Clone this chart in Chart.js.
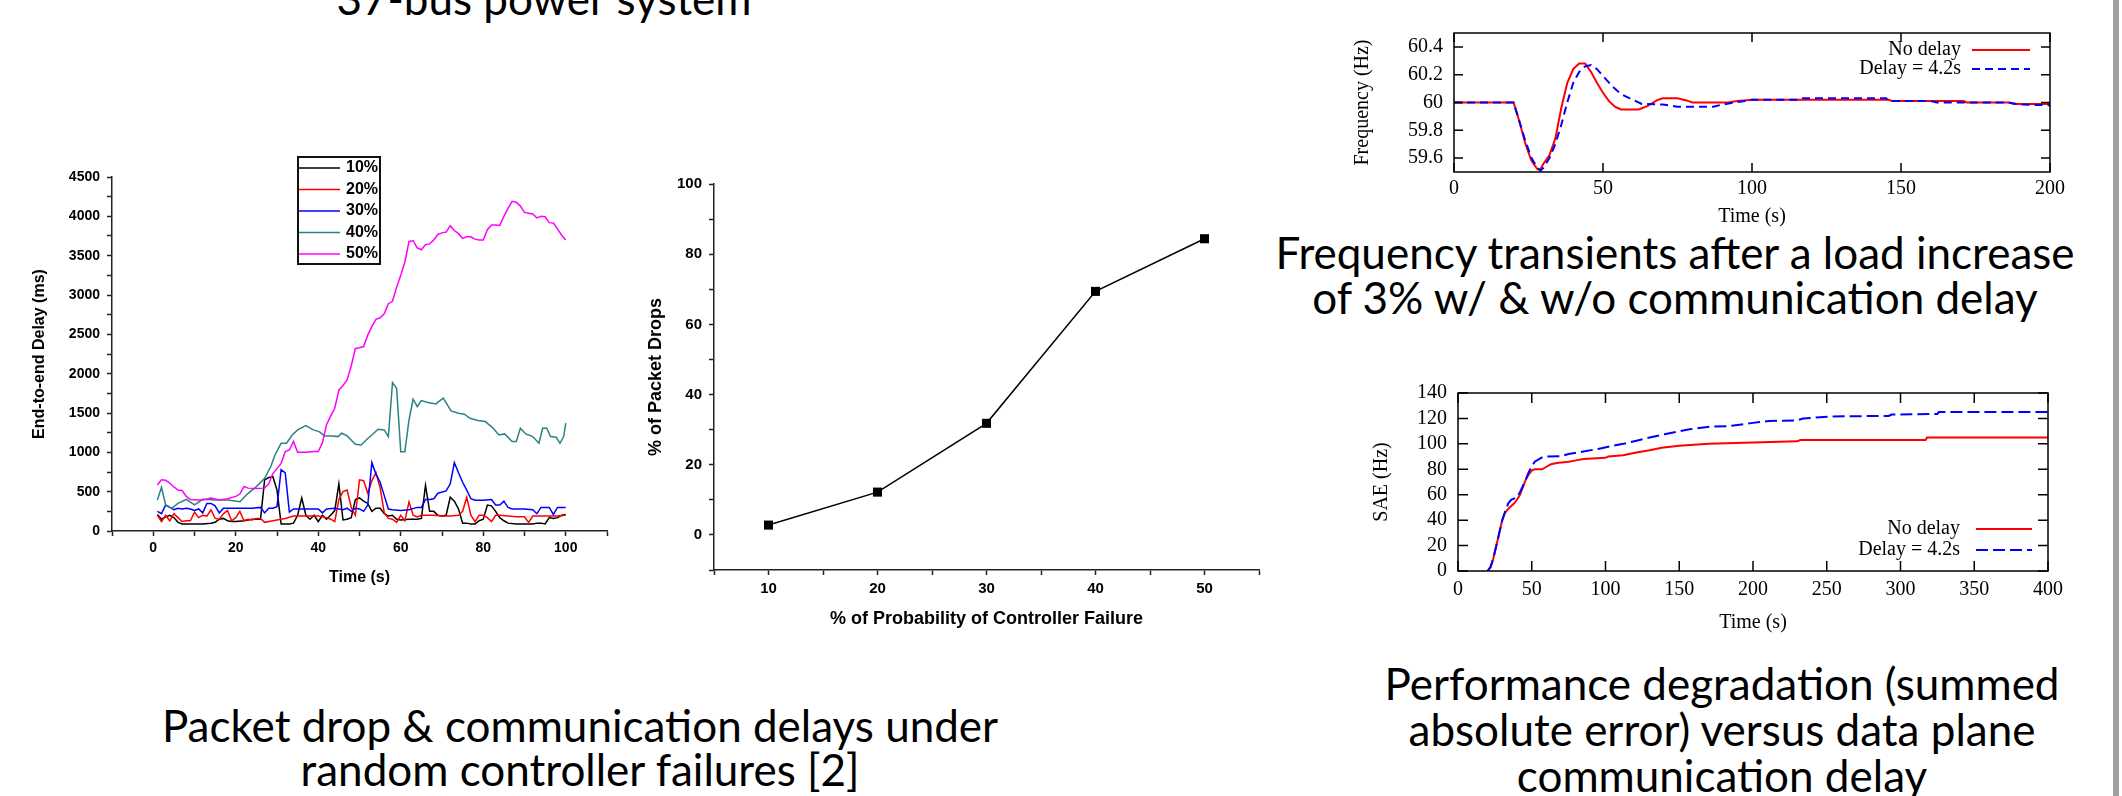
<!DOCTYPE html>
<html>
<head>
<meta charset="utf-8">
<script src="https://cdn.jsdelivr.net/npm/chart.js@4"></script>
<style>
  html, body { margin: 0; padding: 0; background: #fff; }
  body { width: 2122px; height: 796px; position: relative; overflow: hidden; }
  canvas { position: absolute; }
  .cap { position: absolute; font-family: Lato, 'Open Sans', sans-serif; font-size: 44px; color: #000;
         text-align: center; white-space: nowrap; }
  .edge { position: absolute; left: 2113px; top: 0; width: 6px; height: 796px; background: #a0a0a0; }
</style>
</head>
<body>

<div class="cap" style="left:244px; top:-25px; width:600px; line-height:46px;">37-bus power system</div>
<div class="cap" style="left:1225px; top:230px; width:900px; line-height:45px;">Frequency transients after a load increase<br>of 3% w/ &amp; w/o communication delay</div>
<div class="cap" style="left:1272px; top:660px; width:900px; line-height:46px;">Performance degradation (summed<br>absolute error) versus data plane<br>communication delay</div>
<div class="cap" style="left:130px; top:703px; width:900px; line-height:44px;">Packet drop &amp; communication delays under<br>random controller failures [2]</div>
<div class="edge"></div>

<canvas id="delayChart" width="620" height="439" style="left:0px; top:150px;"></canvas>
<canvas id="dropChart" width="660" height="474" style="left:620px; top:160px;"></canvas>
<canvas id="freqChart" width="730" height="222" style="left:1340px; top:10px;"></canvas>
<canvas id="saeChart" width="730" height="268" style="left:1340px; top:370px;"></canvas>

<script>
// ---------- end-to-end delay (left chart) ----------
const delayLabels = ['10%', '20%', '30%', '40%', '50%'];
const delayColors = ['#000000', '#ff0000', '#0000ff', '#2b8282', '#ff00ff'];

const t10 = [1,2,3,4,5,6,7,8, 10,12,14,15,16,17,18,19,20,
  22,23,24,25,26,27,28,29,30,31,32,33,34,35,36,37,38,39,40,41,42,43,44,45,46,47,48,49,50,51,52,53,54,55,56,57,58,59,60,
  62,64, 65,66,67,68,69,70,71,72,73,74,75,76,77,78,79,80,81,82,83,84,85,86, 88,90,92, 93,94,95,96,97,98,99,100];
const d10 = [210,150,180,200,170,110,90,90, 90,90,100,110,150,160,130,120,120,
  130,140,150,150,150,650,680,690,520,90,90,90,100,200,420,200,150,200,120,200,150,200,260,600,140,150,170,400,420,380,350,250,290,290,220,190,200,150,140,
  150,150, 160,580,250,250,200,190,200,430,380,280,100,100,90,90,130,150,330,320,250,170,130,100, 90,90,90, 100,100,90,170,160,170,200,210];

const t20 = [1,2,3,4,5,6,7,8,9,10,11,12,13,14,15,16,17,18,19,20,21,22,23,24,25,26,27,28,
  30,32,34,36,38,40,42,
  43,44,45,46,47,48,49,50,51,52,53,54,55,56,57,58,59,60,61,62,63,64,65,66,
  68,70,72,74, 75,76,77,78,79,80,81,82,83,84, 86,88,90, 91,92, 94,96,98,100];
const d20 = [200,120,200,130,220,170,120,130,130,240,170,200,190,270,160,150,220,260,130,170,250,130,150,140,160,160,110,120,
  140,160,190,190,190,190,170,
  150,120,400,500,520,300,200,650,640,480,640,740,550,230,160,150,110,200,130,370,200,180,200,200,
  200,190,190,200, 250,430,200,120,200,200,170,120,200,200, 190,180,180, 110,190, 190,190,190,200];

const t30 = [1,2,3,4,5,6,7,8,9,10,11,12,13,14,15,16,17,18,20,22,24,26,27,28,29,30,31,32,33,34,36,38,40,41,42,44,
  46,47,48,49,50,51,52,53,54,55,56,57,58,60,62,64,65,66,67,68,69,71,72,73,74,75,76,77,78,80,82,83,84,85,86,87,
  90,92,93,94,96,97,98,100];
const d30 = [250,220,330,300,270,290,280,290,280,260,280,230,350,350,320,230,290,290,290,290,290,300,230,290,290,310,780,740,240,280,280,280,280,230,280,290,
  270,290,250,290,280,250,330,870,720,620,450,280,270,260,270,300,300,400,400,410,480,510,600,870,740,620,520,410,390,390,400,330,330,380,300,280,
  280,270,220,300,300,210,300,300];

const t40 = [1,2,3,4.5,6,8,10,12,15,18, 21,23,25,27,28.5,29.5,31,32.3,33.7,35, 37,38.8,40.2,41.6,43.4,44.8,45.7,47,49,50.4,
  51.8,53,54.5,56,57,58,59,60,61,62, 63,64,65,66.6,68.5,70.3,72.2,74,75.4,76.8, 78.7,80.5,82.4,83.8,85.2,87,88,89,90.3,92,
  93.5,94.4,95.4,96.3,97.7,98.6,99.5,100];
const d40 = [394,556,331,288,352,403,331,403,394,394, 373,479,564,670,819,967,1115,1115,1221,1285, 1340,1285,1264,1209,1209,1200,1243,1209,1103,1094,
  1166,1221,1293,1285,1200,1887,1815,1009,1009,1412, 1675,1582,1658,1633,1616,1688,1527,1497,1484,1433, 1404,1391,1306,1221,1234,1137,1137,1306,1234,1200,
  1115,1306,1306,1200,1191,1115,1200,1370];

const t50 = [1,2,3,4,5,6,7,8,9, 11,12,14,16,18,20,21,22,23,25,27,28,29, 31,32,33,34,35, 37,39,
  40,41,42,43,44,45,46,47,48,49,50,51,52,53,54,55,56,57,58,59,60,61,62,63,64,65,66,67,68,69,70,
  71,72,73,74,75,76,77,78,79,80,81,82,83,84,85,86,87,88,89,90,91,92,93,94,95,96,97,98,99,100];
const d50 = [585,650,645,610,560,520,515,440,400, 395,395,420,395,410,440,470,565,545,540,545,600,730, 860,1010,1030,1140,1000, 1000,1010,
  1010,1120,1350,1460,1560,1790,1850,1920,2100,2320,2330,2345,2490,2600,2690,2710,2760,2890,2920,3100,3250,3420,3680,3690,3600,3575,3640,3650,3700,3770,3790,
  3800,3880,3820,3780,3720,3740,3740,3710,3700,3700,3830,3890,3890,3885,4000,4100,4190,4180,4130,4050,4040,4030,3980,4000,3995,3920,3915,3840,3760,3700];

const delayTimes = [t10, t20, t30, t40, t50];
const delayValues = [d10, d20, d30, d40, d50];
const delayXTicks = [-10,0,10,20,30,40,50,60,70,80,90,100,110];
const delayYTicks = [0,250,500,750,1000,1250,1500,1750,2000,2250,2500,2750,3000,3250,3500,3750,4000,4250,4500];

// ---------- packet drops (middle chart) ----------
const failProb = [10, 20, 30, 40, 50];
const packetDrops = [2.8, 12.2, 31.8, 69.4, 84.4];
const dropXTicks = [5,10,15,20,25,30,35,40,45,50,55];
const dropYTicks = [-10,0,10,20,30,40,50,60,70,80,90,100];

// ---------- frequency transients (top right) ----------
const seriesNames = ['No delay', 'Delay = 4.2s'];
const freqTimeNo = [0,20,22,24,26,28,29,30,32,34,36,38,40,42,44,46,48,50,52,54,56,58,62,65,68,70,75,78,80,92,95,100,146,147,171,172,186,188,200];
const freqNo = [60,60,59.86,59.7,59.58,59.52,59.52,59.56,59.62,59.74,59.96,60.14,60.24,60.28,60.28,60.22,60.14,60.07,60.01,59.97,
  59.95,59.95,59.95,59.975,60.015,60.03,60.03,60.015,60,60,60.01,60.02,60.02,60.01,60.01,60,60,59.99,59.99];
const freqTimeDelay = [0,20,22,24,26,28,29,30,32,34,36,38,40,42,44,46,48,50,53,56,60,63,70,75,87,90,94,99,100,116,117,145,146,160,162,186,190,200];
const freqDelay = [60,60,59.86,59.72,59.6,59.53,59.51,59.53,59.6,59.7,59.84,60,60.14,60.22,60.26,60.27,60.24,60.19,60.12,60.06,
  60.02,59.99,59.985,59.97,59.97,59.985,60,60.015,60.02,60.02,60.03,60.03,60.01,60.01,60,60,59.985,59.98];
const freqXTicks = [0,50,100,150,200];
const freqYTicks = [59.6,59.8,60,60.2,60.4];

// ---------- summed absolute error (bottom right) ----------
const saeTimeNo = [20,22,24,26,28,30,32,35,38,40,42,44,46,48,50,52,57,60,63,67,75,80,85,100,102,112,120,130,138,150,170,200,230,232,317,318,400];
const saeNo = [0,3,10,20,30,40,46,50,53,56,60,66,72,76,79,80,80,82,84,85,86,87,88,89,90,91,93,95,97,98.5,100,101,102,103,103,105,105];
const saeTimeDelay = [20,22,24,26,28,30,32,34,36,40,42,44,46,48,50,52,55,58,70,75,85,95,103,112,121,130,140,148,157,171,184,191,200,211,230,234,252,292,294,325,326,400];
const saeDelay = [0,3,10,20,30,40,47,53,56,58,62,67,72,78,82,86,88,90,90.3,92,94,96,98,100,102.5,105,107.5,109.5,111.5,113.5,
  114,115,116.5,118,118.5,120,121.5,122,123,123.5,125,125];
const saeXTicks = [0,50,100,150,200,250,300,350,400];
const saeYTicks = [0,20,40,60,80,100,120,140];

// ---------- helpers ----------
Chart.defaults.color = '#000';
const toPoints = (xs, ys) => xs.map((x, i) => ({ x: x, y: ys[i] }));
const setTicks = (list) => (axis) => { axis.ticks = list.map(v => ({ value: v })); };
const sansBold = (size) => ({ family: "'Liberation Sans', Arial, sans-serif", weight: 'bold', size: size });
const serif = (size) => ({ family: "'Liberation Serif', 'Times New Roman', serif", size: size });

// Origin-style boxed legend
const originKey = {
  id: 'originKey',
  afterDatasetsDraw(chart, args, o) {
    const { ctx, chartArea: a } = chart;
    const x0 = a.left + o.dx, y0 = a.top + o.dy;
    ctx.save();
    ctx.fillStyle = '#fff';
    ctx.fillRect(x0, y0, o.w, o.h);
    ctx.strokeStyle = '#111';
    ctx.lineWidth = 2;
    ctx.strokeRect(x0, y0, o.w, o.h);
    ctx.font = o.font;
    ctx.textBaseline = 'middle';
    chart.data.datasets.forEach((ds, i) => {
      const y = y0 + o.first + i * o.step;
      ctx.strokeStyle = ds.borderColor;
      ctx.lineWidth = 1.5;
      ctx.beginPath();
      ctx.moveTo(x0 + 1, y);
      ctx.lineTo(x0 + o.sample, y);
      ctx.stroke();
      ctx.fillStyle = '#000';
      ctx.fillText(ds.label, x0 + o.sample + o.gap, y);
    });
    ctx.restore();
  }
};

// gnuplot-style frame: full box, inward ticks on every side, key at the right
const gnuFrame = {
  id: 'gnuFrame',
  afterDatasetsDraw(chart, args, o) {
    const { ctx, chartArea: a, scales } = chart;
    const L = o.tick;
    ctx.save();
    ctx.strokeStyle = '#000';
    ctx.lineWidth = 1.5;
    ctx.beginPath();
    scales.x.ticks.forEach(t => {
      const px = scales.x.getPixelForValue(t.value);
      ctx.moveTo(px, a.bottom); ctx.lineTo(px, a.bottom - L);
      ctx.moveTo(px, a.top); ctx.lineTo(px, a.top + L);
    });
    scales.y.ticks.forEach(t => {
      const py = scales.y.getPixelForValue(t.value);
      ctx.moveTo(a.left, py); ctx.lineTo(a.left + L, py);
      ctx.moveTo(a.right, py); ctx.lineTo(a.right - L, py);
    });
    ctx.stroke();
    ctx.strokeRect(a.left, a.top, a.right - a.left, a.bottom - a.top);

    ctx.font = o.font;
    ctx.textAlign = 'right';
    ctx.textBaseline = 'middle';
    chart.data.datasets.forEach((ds, i) => {
      const y = a.top + o.keyTop + i * o.keyStep;
      ctx.fillStyle = '#000';
      ctx.fillText(ds.label, a.right - o.textRight, y);
      ctx.strokeStyle = ds.borderColor;
      ctx.lineWidth = ds.borderWidth;
      ctx.setLineDash(ds.borderDash || []);
      ctx.beginPath();
      ctx.moveTo(a.right - o.lineFrom, y);
      ctx.lineTo(a.right - o.lineTo, y);
      ctx.stroke();
      ctx.setLineDash([]);
    });
    ctx.restore();
  }
};

const baseOpts = { responsive: false, animation: false, devicePixelRatio: 1, events: [] };

// ---------- chart 1: end-to-end delay ----------
new Chart(document.getElementById('delayChart'), {
  type: 'line',
  data: {
    datasets: delayLabels.map((name, i) => ({
      label: name,
      data: toPoints(delayTimes[i], delayValues[i]),
      borderColor: delayColors[i],
      borderWidth: 1.5,
      pointRadius: 0,
      tension: 0,
      order: delayLabels.length - i
    }))
  },
  options: Object.assign({}, baseOpts, {
    layout: { padding: { top: 27, right: 13, left: 0, bottom: 0 } },
    plugins: {
      legend: { display: false },
      tooltip: { enabled: false },
      originKey: { dx: 186, dy: -20, w: 82, h: 107, first: 11, step: 21.5, sample: 42, gap: 6,
                   font: "bold 16px 'Liberation Sans', Arial, sans-serif" }
    },
    scales: {
      x: {
        type: 'linear', min: -10, max: 110,
        afterBuildTicks: setTicks(delayXTicks),
        afterFit: (axis) => { axis.height = 58; },
        grid: { display: true, drawOnChartArea: false, drawTicks: true, tickLength: 5, tickWidth: 1.5, color: '#222' },
        border: { display: true, color: '#222', width: 1.5 },
        ticks: { autoSkip: false, maxRotation: 0, padding: 4, font: sansBold(14),
                 callback: (v) => (v % 20 === 0 && v >= 0 && v <= 100) ? v : '' },
        title: { display: true, text: 'Time (s)', font: sansBold(16), padding: { top: 0, bottom: 2 } }
      },
      y: {
        type: 'linear', min: 0, max: 4500,
        afterBuildTicks: setTicks(delayYTicks),
        afterFit: (axis) => { axis.width = 112; },
        grid: { display: true, drawOnChartArea: false, drawTicks: true, tickLength: 5, tickWidth: 1.5, color: '#222' },
        border: { display: true, color: '#222', width: 1.5 },
        ticks: { autoSkip: false, padding: 7, font: sansBold(14),
                 callback: (v) => v % 500 === 0 ? v : '' },
        title: { display: true, text: 'End-to-end Delay (ms)', font: sansBold(16), padding: { top: 30, bottom: 0 } }
      }
    }
  }),
  plugins: [originKey]
});

// ---------- chart 2: packet drops ----------
new Chart(document.getElementById('dropChart'), {
  type: 'line',
  data: {
    datasets: [{
      label: 'Packet drops',
      data: toPoints(failProb, packetDrops),
      borderColor: '#000',
      borderWidth: 1.5,
      backgroundColor: '#000',
      pointStyle: 'rect',
      pointRadius: 6.4,
      pointBorderWidth: 0,
      tension: 0
    }]
  },
  options: Object.assign({}, baseOpts, {
    layout: { padding: { top: 24, right: 21, left: 0, bottom: 0 } },
    plugins: { legend: { display: false }, tooltip: { enabled: false } },
    scales: {
      x: {
        type: 'linear', min: 5, max: 55,
        afterBuildTicks: setTicks(dropXTicks),
        afterFit: (axis) => { axis.height = 64; },
        grid: { display: true, drawOnChartArea: false, drawTicks: true, tickLength: 5, tickWidth: 1.5, color: '#222' },
        border: { display: true, color: '#222', width: 1.5 },
        ticks: { autoSkip: false, maxRotation: 0, padding: 5, font: sansBold(15),
                 callback: (v) => (v % 10 === 0) ? v : '' },
        title: { display: true, text: '% of Probability of Controller Failure', font: sansBold(18), padding: { top: 0, bottom: 4 } }
      },
      y: {
        type: 'linear', min: -10, max: 100,
        afterBuildTicks: setTicks(dropYTicks),
        afterFit: (axis) => { axis.width = 94; },
        grid: { display: true, drawOnChartArea: false, drawTicks: true, tickLength: 5, tickWidth: 1.5, color: '#222' },
        border: { display: true, color: '#222', width: 1.5 },
        ticks: { autoSkip: false, padding: 7, font: sansBold(15),
                 callback: (v) => (v >= 0 && v % 20 === 0) ? v : '' },
        title: { display: true, text: '% of Packet Drops', font: sansBold(18), padding: { top: 25, bottom: 0 } }
      }
    }
  })
});

// ---------- chart 3: frequency transients ----------
new Chart(document.getElementById('freqChart'), {
  type: 'line',
  data: {
    datasets: [
      { label: seriesNames[0], data: toPoints(freqTimeNo, freqNo), borderColor: '#ff0000', borderWidth: 2,
        pointRadius: 0, tension: 0, order: 1 },
      { label: seriesNames[1], data: toPoints(freqTimeDelay, freqDelay), borderColor: '#0000ff', borderWidth: 2,
        borderDash: [8, 5], pointRadius: 0, tension: 0, order: 0 }
    ]
  },
  options: Object.assign({}, baseOpts, {
    layout: { padding: { top: 16, right: 18, left: 0, bottom: 0 } },
    plugins: {
      legend: { display: false },
      tooltip: { enabled: false },
      gnuFrame: { tick: 9, font: "20px 'Liberation Serif', 'Times New Roman', serif",
                  keyTop: 17, keyStep: 19, textRight: 89, lineFrom: 78, lineTo: 20 }
    },
    scales: {
      x: {
        type: 'linear', min: 0, max: 200,
        afterBuildTicks: setTicks(freqXTicks),
        afterFit: (axis) => { axis.height = 60; },
        grid: { display: false, drawTicks: false },
        border: { display: false },
        ticks: { autoSkip: false, maxRotation: 0, padding: 5, font: serif(20) },
        title: { display: true, text: 'Time (s)', font: serif(20), padding: { top: 0, bottom: 3 } }
      },
      y: {
        type: 'linear', min: 59.5, max: 60.5,
        afterBuildTicks: setTicks(freqYTicks),
        afterFit: (axis) => { axis.width = 114; },
        grid: { display: false, drawTicks: false },
        border: { display: false },
        ticks: { autoSkip: false, padding: 11, font: serif(20), callback: (v) => String(+v.toFixed(1)) },
        title: { display: true, text: 'Frequency (Hz)', font: serif(20), padding: { top: 11, bottom: 0 } }
      }
    }
  }),
  plugins: [gnuFrame]
});

// ---------- chart 4: summed absolute error ----------
new Chart(document.getElementById('saeChart'), {
  type: 'line',
  data: {
    datasets: [
      { label: seriesNames[0], data: toPoints(saeTimeNo, saeNo), borderColor: '#ff0000', borderWidth: 2,
        pointRadius: 0, tension: 0, order: 1 },
      { label: seriesNames[1], data: toPoints(saeTimeDelay, saeDelay), borderColor: '#0000ff', borderWidth: 2,
        borderDash: [12, 5], pointRadius: 0, tension: 0, order: 0 }
    ]
  },
  options: Object.assign({}, baseOpts, {
    layout: { padding: { top: 18, right: 22, left: 0, bottom: 0 } },
    plugins: {
      legend: { display: false },
      tooltip: { enabled: false },
      gnuFrame: { tick: 10, font: "20px 'Liberation Serif', 'Times New Roman', serif",
                  keyTop: 136, keyStep: 21, textRight: 88, lineFrom: 72, lineTo: 16 }
    },
    scales: {
      x: {
        type: 'linear', min: 0, max: 400,
        afterBuildTicks: setTicks(saeXTicks),
        afterFit: (axis) => { axis.height = 67; },
        grid: { display: false, drawTicks: false },
        border: { display: false },
        ticks: { autoSkip: false, maxRotation: 0, padding: 7, font: serif(20) },
        title: { display: true, text: 'Time (s)', font: serif(20), padding: { top: 0, bottom: 3 } }
      },
      y: {
        type: 'linear', min: 0, max: 140,
        afterBuildTicks: setTicks(saeYTicks),
        afterFit: (axis) => { axis.width = 118; },
        grid: { display: false, drawTicks: false },
        border: { display: false },
        ticks: { autoSkip: false, padding: 11, font: serif(20) },
        title: { display: true, text: 'SAE (Hz)', font: serif(20), padding: { top: 30, bottom: 0 } }
      }
    }
  }),
  plugins: [gnuFrame]
});
</script>
</body>
</html>
